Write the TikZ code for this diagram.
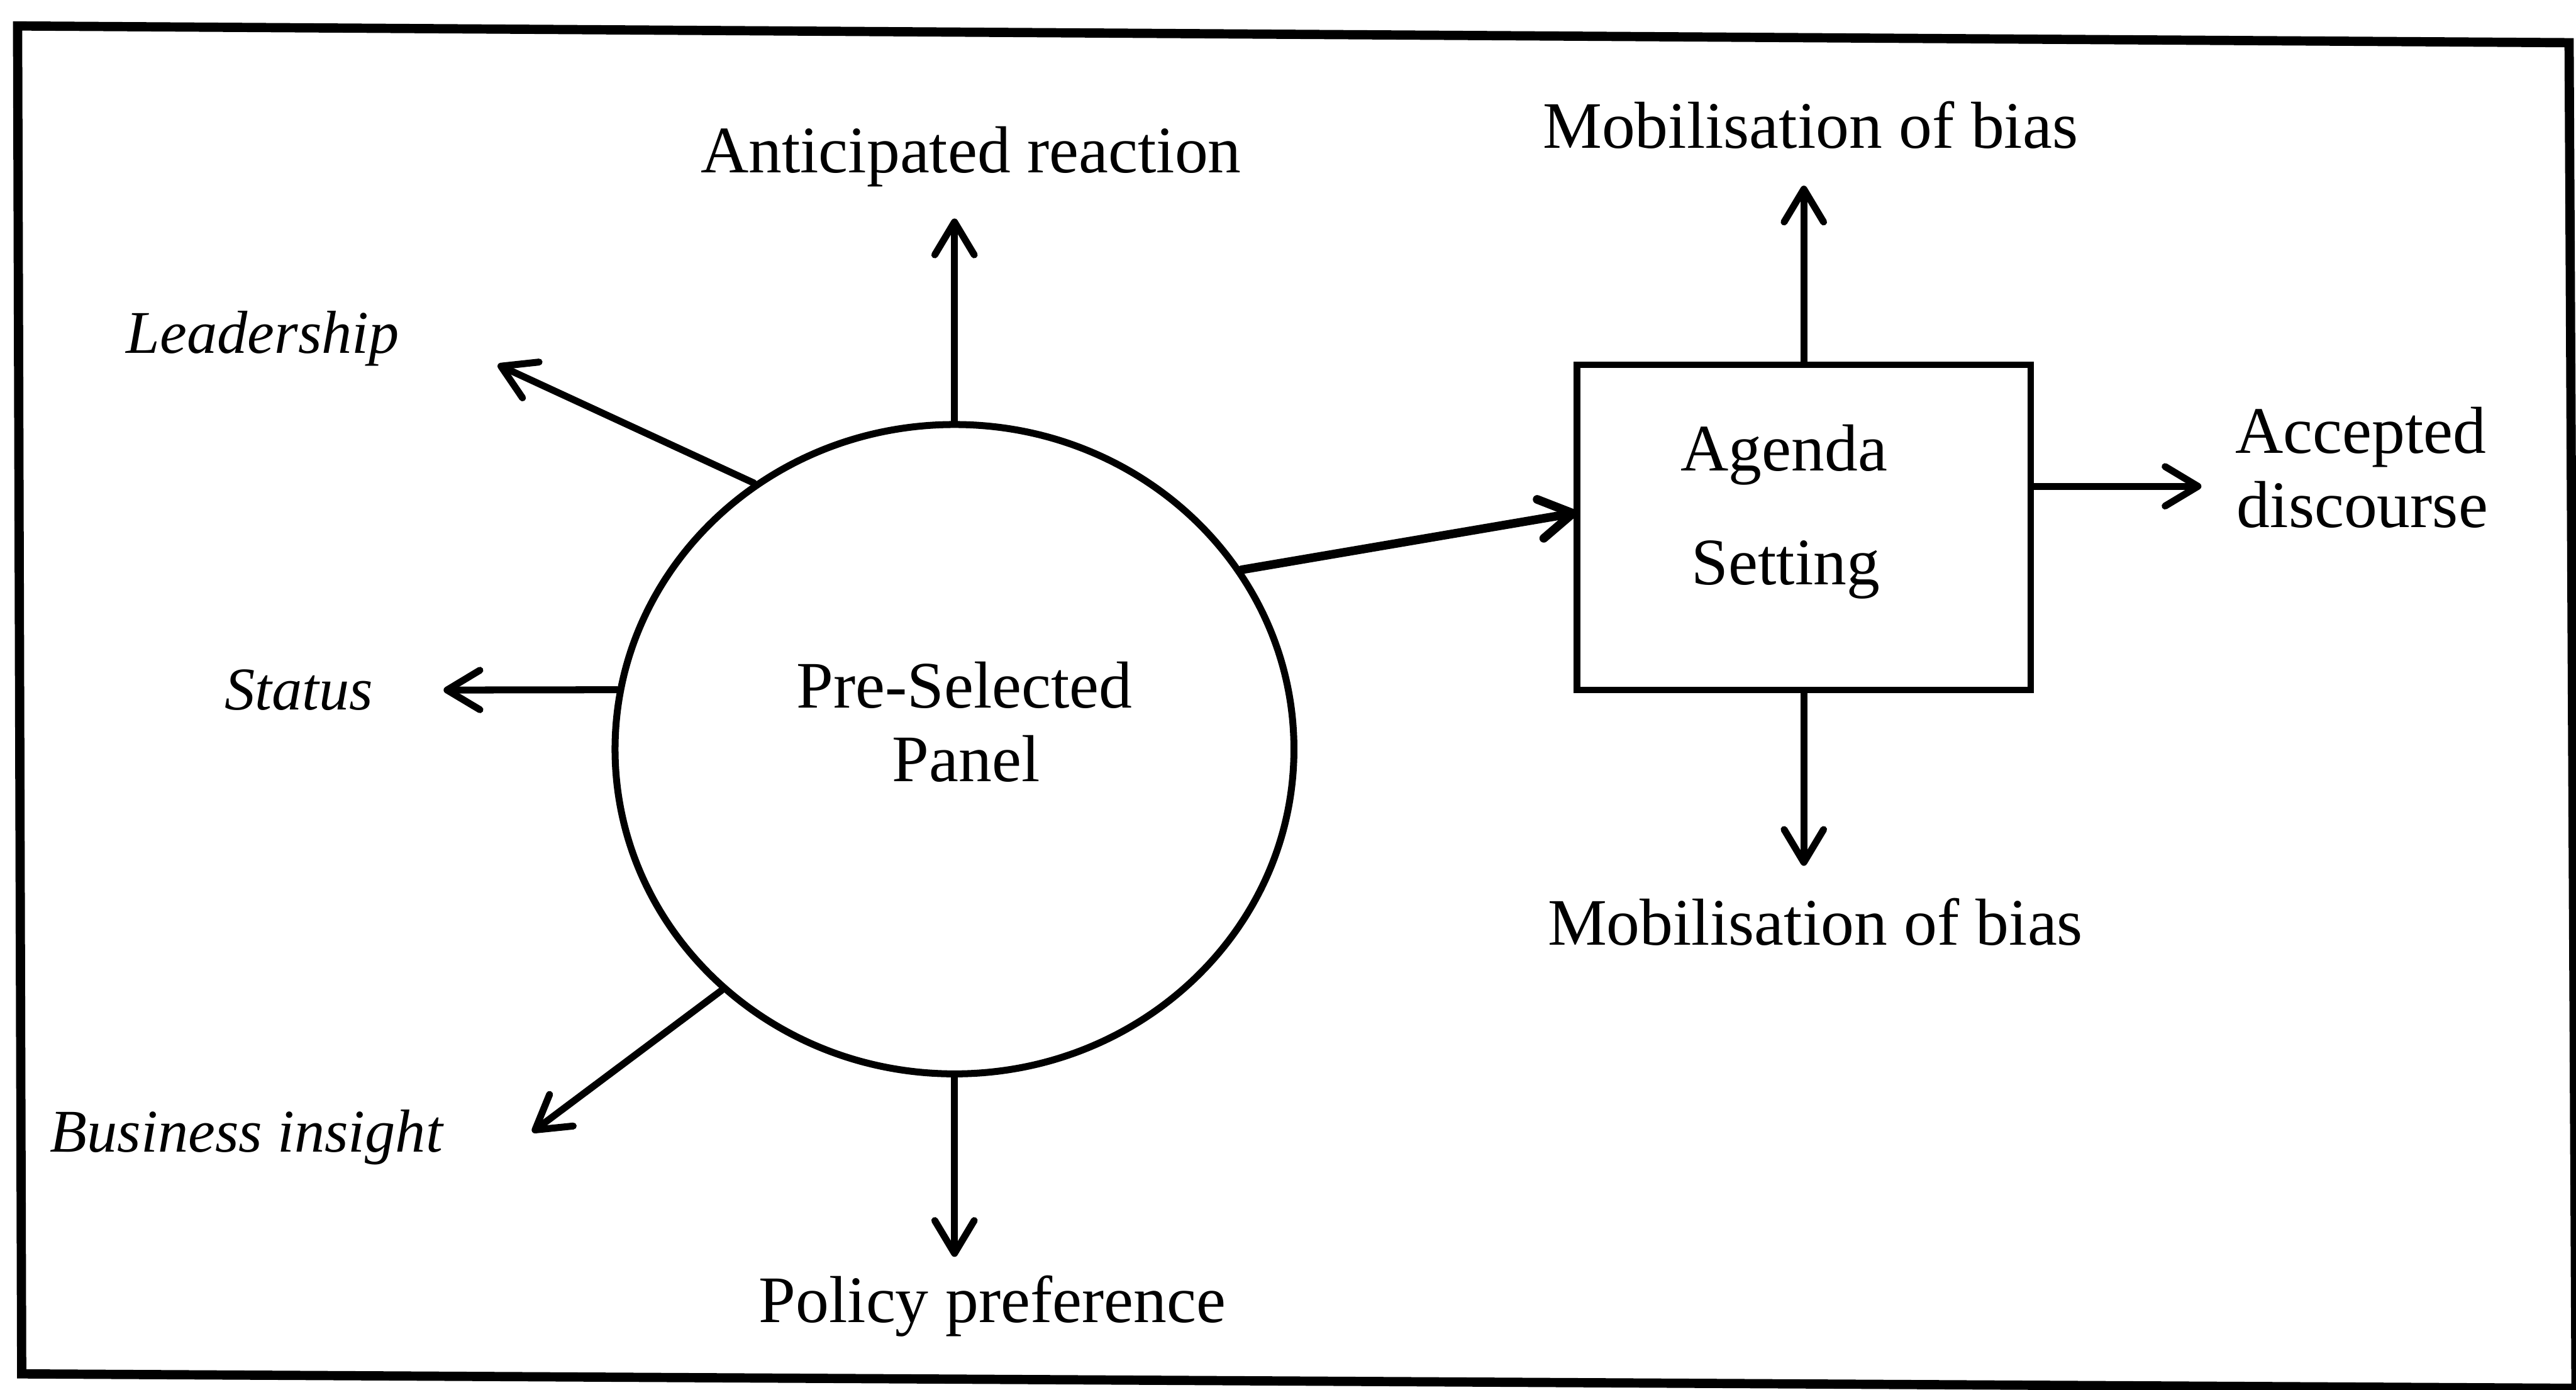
\documentclass[tikz,border=0pt]{standalone}
\usepackage{fontspec}
\setmainfont{Liberation Serif}
\usetikzlibrary{arrows.meta,shapes.geometric}
\begin{document}
\begin{tikzpicture}[x=0.01cm,y=-0.01cm,
  lbl/.style={inner sep=0pt,anchor=base,font=\fontsize{11.5}{14}\selectfont},
  ilbl/.style={inner sep=0pt,anchor=base,font=\fontsize{10.5}{13}\selectfont\itshape},
  arr/.style={line width=1.2pt,line cap=round,-{Straight Barb[length=2mm,width=2.4mm,round]}},
  panelshape/.style={ellipse,draw,line width=1.2pt,inner sep=0pt,minimum width=4.13cm,minimum height=3.95cm},
  agendabox/.style={rectangle,draw,line width=1.1pt,inner sep=0pt,minimum width=2.76cm,minimum height=1.98cm},
  framestyle/.style={line width=1.6pt,line join=miter}]
\useasboundingbox (0,0) rectangle (1568,846);
\clip (0,0) rectangle (1568,846);

% outer frame
\draw[framestyle] (10.7,15.8) -- (1563.8,26) -- (1568,845) -- (13.2,836.2) -- cycle;

% main shapes
\node[panelshape] (pnl) at (581,456) {};
\node[agendabox] (ags) at (1098,321) {};

% texts inside the shapes
\node[lbl] (pnlA) at (587,431) {Pre-Selected};
\node[lbl] (pnlB) at (588,475.5) {Panel};
\node[lbl] (agA) at (1086,286.4) {Agenda};
\node[lbl] (agB) at (1087,356) {Setting};

% outer labels
\node[lbl] (antLbl) at (591,105) {Anticipated reaction};
\node[ilbl] (leadLbl) at (160,215) {Leadership};
\node[ilbl] (statLbl) at (182,432) {Status};
\node[ilbl] (busLbl) at (150,701) {Business insight};
\node[lbl] (polLbl) at (604,805) {Policy preference};
\node[lbl] (mobTop) at (1102,90) {Mobilisation of bias};
\node[lbl] (mobBot) at (1105,575) {Mobilisation of bias};
\node[lbl] (accA) at (1437,276) {Accepted};
\node[lbl] (accB) at (1438,321) {discourse};

% arrow tips
\coordinate (tAnt) at (580,133);
\coordinate (tLead) at (303,222);
\coordinate (tStat) at (270,420);
\coordinate (tBus) at (324,689);
\coordinate (tPol) at (581,765);
\coordinate (aIn) at (960,312);
\coordinate (tMobT) at (1097,113);
\coordinate (tMobB) at (1095,527);
\coordinate (tAcc) at (1340,296);

% connectors from the panel
\draw[arr] (pnl.north) -- (pnl.north |- tAnt);
\draw[arr] (pnl.127.4) -- (tLead);
\draw[arr] (pnl.170) -- (tStat);
\draw[arr] (pnl.226) -- (tBus);
\draw[arr] (pnl.south) -- (pnl.south |- tPol);
\draw[arr,line width=1.5pt] (pnl.32) -- (aIn);

% connectors from the agenda box
\draw[arr] (ags.north) -- (ags.north |- tMobT);
\draw[arr] (ags.south) -- (ags.south |- tMobB);
\draw[arr] (ags.east |- tAcc) -- (tAcc);
\end{tikzpicture}
\end{document}
